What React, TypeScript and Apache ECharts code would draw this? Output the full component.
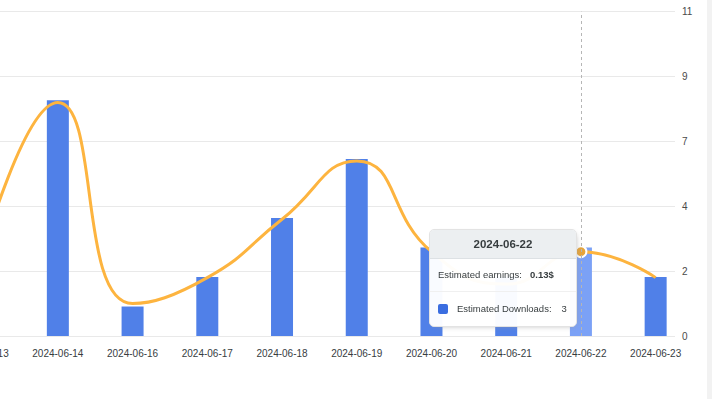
import React, { useEffect, useRef } from "react";
import * as echarts from "echarts";

const categories = [
  "2024-06-13",
  "2024-06-14",
  "2024-06-16",
  "2024-06-17",
  "2024-06-18",
  "2024-06-19",
  "2024-06-20",
  "2024-06-21",
  "2024-06-22",
  "2024-06-23",
];
const downloads = [3, 8, 1, 2, 4, 6, 3, 2, 3, 2];
const earnings = [0.13, 0.36, 0.05, 0.09, 0.18, 0.27, 0.13, 0.08, 0.13, 0.09];
const downloadsAxisMax = 11;
const downloadsAxisStep = 2.2;
const earningsAxisMax = 0.5;
const activeIndex = 8;

const FONT = "'Liberation Sans', Arial, Helvetica, sans-serif";

export default function App() {
  const ref = useRef<HTMLDivElement>(null);

  useEffect(() => {
    if (!ref.current) return;
    document.body.style.margin = "0";
    document.body.style.overflow = "hidden";
    const chart = echarts.init(ref.current, undefined, { renderer: "svg" });

    const barData = downloads.map((v, i) => [i, v]);
    const lineData = earnings.map((v, i) => [i, v]);

    chart.setOption({
      animation: false,
      grid: {
        left: -91.6,
        right: 37,
        top: 11.7,
        bottom: 63,
        containLabel: false,
        outerBoundsMode: "none",
      },
      graphic: [
        {
          type: "rect",
          shape: { x: 707, y: 0, width: 5, height: 399 },
          style: { fill: "#f2f2f2" },
          silent: true,
        },
      ],
      tooltip: {
        trigger: "axis",
        triggerOn: "none",
        alwaysShowContent: true,
        padding: 0,
        borderWidth: 0,
        backgroundColor: "transparent",
        extraCssText: "box-shadow:none;",
        position: () => [429, 229],
        axisPointer: {
          type: "line",
          snap: true,
          lineStyle: { color: "#b6b6b6", width: 1, type: [3, 3] },
          label: { show: false },
        },
        formatter: (params: any) => {
          const arr = Array.isArray(params) ? params : [params];
          const idx = Math.round(arr[0].value[0]);
          const title = categories[idx];
          const e = earnings[idx];
          const d = downloads[idx];
          return `<div style="font-family:${FONT};color:#373d3f;width:148px;box-sizing:border-box;border:1px solid #e3e3e3;border-radius:5px;background:rgba(255,255,255,0.97);box-shadow:2px 2px 6px -4px #999;overflow:hidden;">
  <div style="background:#eceff1;border-bottom:1px solid #dde1e4;height:28px;line-height:28px;text-align:center;font-size:11.5px;font-weight:bold;">${title}</div>
  <div style="height:32px;line-height:32px;padding-left:8px;font-size:9.5px;white-space:nowrap;">Estimated earnings:<span style="margin-left:8px;font-weight:bold;">${e.toFixed(2)}$</span></div>
  <div style="border-top:1px solid #f0f0f0;height:34px;line-height:34px;padding-left:8px;font-size:9.5px;white-space:nowrap;display:flex;align-items:center;"><span style="display:inline-block;width:10px;height:10px;border-radius:2px;background:#3a6de0;margin-right:9px;"></span>Estimated Downloads:<span style="margin-left:10px;">${d}</span></div>
</div>`;
        },
      },
      xAxis: {
        type: "value",
        min: -1,
        max: 9.259,
        interval: 1,
        axisLine: { show: false },
        axisTick: { show: false },
        splitLine: { show: false },
        axisLabel: {
          margin: 12,
          fontSize: 10,
          fontFamily: FONT,
          color: "#373d3f",
          formatter: (v: number) =>
            Number.isInteger(v) && v >= 0 && v < categories.length ? categories[v] : "",
        },
        axisPointer: { snap: true },
      },
      yAxis: [
        {
          type: "value",
          position: "right",
          min: 0,
          max: downloadsAxisMax,
          interval: downloadsAxisStep,
          axisLine: { show: false },
          axisTick: { show: false },
          splitLine: { lineStyle: { color: "#e9e9e9", width: 1 } },
          axisLabel: {
            margin: 7,
            fontSize: 10,
            fontFamily: FONT,
            color: "#4a4a4a",
            padding: [0, 0, 5, 0],
            formatter: (v: number) => String(Math.round(v)),
          },
        },
        {
          type: "value",
          show: false,
          min: 0,
          max: earningsAxisMax,
          splitLine: { show: false },
        },
      ],
      series: [
        {
          name: "Estimated Downloads",
          type: "bar",
          data: barData,
          barWidth: 22,
          itemStyle: { color: "#5080e8" },
          emphasis: { itemStyle: { color: "#7ba1f6" } },
          z: 2,
        },
        {
          name: "Estimated earnings",
          type: "line",
          yAxisIndex: 1,
          data: lineData,
          smooth: true,
          showSymbol: false,
          symbol: "circle",
          symbolSize: 11,
          lineStyle: { color: "#e6a43a", width: 3 },
          itemStyle: { color: "#e6a43a", borderColor: "#ffffff", borderWidth: 2 },
          emphasis: { scale: false },
          z: 3,
        },
      ],
    });

    chart.dispatchAction({ type: "showTip", seriesIndex: 0, dataIndex: activeIndex });
    chart.dispatchAction({ type: "highlight", seriesIndex: 0, dataIndex: activeIndex });

    return () => chart.dispose();
  }, []);

  return (
    <div
      ref={ref}
      style={{
        width: 712,
        height: 399,
        background: "#fff",
        pointerEvents: "none",
      }}
    />
  );
}
